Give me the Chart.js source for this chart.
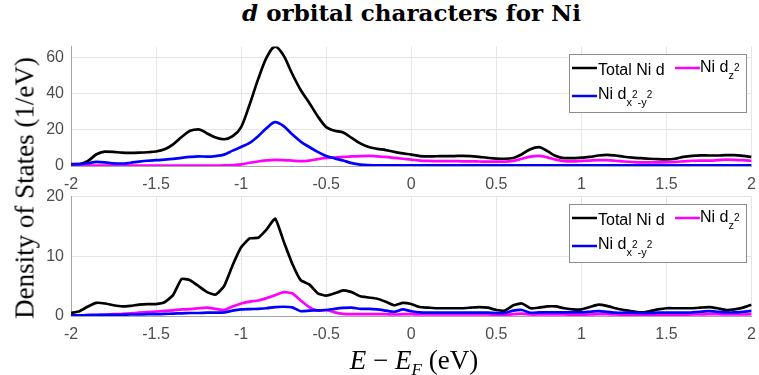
<!DOCTYPE html>
<html>
<head>
<meta charset="utf-8">
<script src="https://cdn.jsdelivr.net/npm/chart.js@4/dist/chart.umd.min.js"></script>
<style>
  html, body { margin: 0; padding: 0; background: #fff; }
  #wrap { position: relative; width: 759px; height: 375px; overflow: hidden; }
  canvas { position: absolute; left: 0; }
  #title {
    position: absolute; left: 71px; width: 681px; top: -1px;
    text-align: center; font: bold 23px "DejaVu Serif", serif; color: #000;
  }
  #ylab {
    position: absolute; left: 25px; top: 188px; white-space: nowrap;
    transform: translate(-50%, -50%) rotate(-90deg);
    font: 27px "Liberation Serif", serif; color: #000;
  }
  #xlab {
    position: absolute; left: 414px; top: 345px; white-space: nowrap;
    transform: translateX(-50%);
    font: 27px "Liberation Serif", serif; color: #000;
  }
  #xlab sub { font-size: 17px; vertical-align: -6px; }
</style>
</head>
<body>
<div id="wrap">
  <div id="title"><i>d</i> orbital characters for Ni</div>
  <canvas id="top-chart" width="765" height="167" style="top:30px"></canvas>
  <canvas id="bottom-chart" width="765" height="170" style="top:180px"></canvas>
  <div id="ylab">Density of States (1/eV)</div>
  <div id="xlab"><i>E</i> &minus; <i>E</i><sub><i>F</i></sub> (eV)</div>
</div>
<script>
// ============================================
// Data
// ============================================
const energy = [-2.00,-1.95,-1.90,-1.85,-1.80,-1.75,-1.70,-1.65,-1.60,-1.55,
  -1.50,-1.45,-1.40,-1.35,-1.30,-1.25,-1.20,-1.15,-1.10,-1.05,
  -1.00,-0.95,-0.90,-0.85,-0.80,-0.75,-0.70,-0.65,-0.60,-0.55,
  -0.50,-0.45,-0.40,-0.35,-0.30,-0.25,-0.20,-0.15,-0.10,-0.05,
  0.00,0.05,0.10,0.15,0.20,0.25,0.30,0.35,0.40,0.45,
  0.50,0.55,0.60,0.65,0.70,0.75,0.80,0.85,0.90,0.95,
  1.00,1.05,1.10,1.15,1.20,1.25,1.30,1.35,1.40,1.45,
  1.50,1.55,1.60,1.65,1.70,1.75,1.80,1.85,1.90,1.95,
  2.00];

// upper panel
const topTotal = [1.0,1.1,2.8,6.5,8.0,7.8,7.4,7.3,7.4,7.6,
  8.0,9.2,12.0,16.0,19.5,20.3,18.0,15.8,14.8,16.5,
  21.5,34.0,48.0,60.0,66.0,61.0,51.0,42.0,35.0,27.5,
  21.5,19.5,18.5,15.5,12.5,10.5,9.5,8.8,7.8,7.0,
  6.3,5.5,5.3,5.4,5.5,5.5,5.6,5.5,5.0,4.5,
  4.1,4.0,4.4,6.5,9.3,10.4,8.2,5.5,4.3,4.3,
  4.6,5.0,5.8,6.2,5.8,5.1,4.6,4.3,4.0,3.8,
  3.7,4.0,5.0,5.6,5.9,5.8,5.8,6.0,6.0,5.6,
  5.0];
const topDz2 = [0.2,0.2,0.2,0.2,0.2,0.2,0.2,0.2,0.2,0.2,
  0.2,0.2,0.2,0.2,0.2,0.2,0.2,0.2,0.3,0.5,
  0.9,1.8,2.5,3.1,3.4,3.3,3.0,2.7,3.0,3.8,
  4.5,4.7,5.0,5.3,5.5,5.6,5.3,5.0,4.5,4.0,
  3.5,3.0,2.8,2.7,2.7,2.7,2.6,2.6,2.5,2.4,
  2.4,2.4,2.8,4.0,5.2,5.6,4.8,3.5,2.7,2.6,
  2.8,3.0,3.2,3.2,2.9,2.5,2.2,2.0,2.0,2.0,
  2.1,2.3,2.6,2.9,3.0,3.0,3.2,3.5,3.4,3.2,
  2.9];
const topDx2y2 = [0.9,1.0,1.5,2.3,2.0,1.4,1.3,1.8,2.4,2.9,
  3.2,3.5,3.9,4.5,5.0,5.3,5.2,5.5,6.3,8.5,
  10.5,12.8,16.5,21.0,24.2,22.0,17.5,13.5,10.5,7.8,
  5.5,4.2,3.0,1.6,0.8,0.5,0.4,0.4,0.4,0.4,
  0.4,0.4,0.4,0.4,0.4,0.4,0.4,0.4,0.4,0.4,
  0.4,0.4,0.4,0.4,0.4,0.4,0.4,0.4,0.4,0.4,
  0.4,0.4,0.4,0.4,0.4,0.4,0.4,0.4,0.4,0.4,
  0.4,0.4,0.4,0.4,0.4,0.4,0.4,0.4,0.4,0.4,
  0.4];

// lower panel
const botTotal = [0.5,0.8,1.6,2.2,2.1,1.8,1.6,1.7,1.9,2.0,
  2.0,2.3,3.5,6.2,6.0,5.0,4.0,3.6,5.0,8.5,
  11.5,13.0,13.1,14.5,16.3,12.5,8.8,6.0,5.3,3.8,
  3.4,3.8,4.3,4.0,3.3,3.1,2.9,2.4,1.8,2.2,
  2.0,1.5,1.4,1.3,1.3,1.3,1.3,1.4,1.5,1.4,
  1.0,0.9,1.8,2.1,1.3,1.4,1.6,1.6,1.3,1.1,
  1.1,1.5,1.9,1.7,1.3,1.0,0.8,0.6,0.8,1.1,
  1.3,1.3,1.3,1.3,1.4,1.5,1.3,1.0,1.1,1.4,
  1.9];
const botDz2 = [0.1,0.1,0.15,0.2,0.2,0.3,0.35,0.45,0.55,0.65,
  0.75,0.85,0.95,1.1,1.15,1.3,1.4,1.2,1.0,1.6,
  2.1,2.4,2.6,3.0,3.5,4.0,3.8,2.6,1.5,0.9,
  1.0,0.6,0.35,0.3,0.3,0.3,0.3,0.3,0.25,0.3,
  0.3,0.25,0.25,0.25,0.25,0.25,0.25,0.25,0.25,0.25,
  0.2,0.2,0.3,0.4,0.25,0.25,0.25,0.25,0.25,0.2,
  0.2,0.25,0.3,0.3,0.25,0.2,0.2,0.2,0.2,0.2,
  0.2,0.2,0.2,0.25,0.25,0.3,0.3,0.25,0.25,0.25,
  0.3];
const botDx2y2 = [0.1,0.1,0.15,0.15,0.2,0.2,0.2,0.25,0.25,0.3,
  0.3,0.35,0.4,0.45,0.5,0.5,0.55,0.55,0.6,0.9,
  1.1,1.15,1.2,1.3,1.5,1.55,1.45,0.8,0.9,0.95,
  1.0,1.2,1.35,1.4,1.2,1.2,1.1,0.9,0.7,1.1,
  0.8,0.6,0.55,0.55,0.55,0.55,0.55,0.55,0.55,0.55,
  0.5,0.5,0.9,1.0,0.55,0.6,0.6,0.6,0.6,0.6,
  0.6,0.7,0.8,0.7,0.55,0.55,0.55,0.5,0.5,0.55,
  0.55,0.55,0.55,0.6,0.7,0.8,0.7,0.6,0.6,0.7,
  0.85];

// axes
const xTicks = [-2, -1.5, -1, -0.5, 0, 0.5, 1, 1.5, 2];
const topYTicks = [0, 20, 40, 60];
const botYTicks = [0, 10, 20];

// legend labels: [text, level]  0 = normal, -1 = subscript, 1 = superscript on subscript
const legendLabels = [
  [["Total Ni d", 0]],
  [["Ni d", 0], ["z", -1], ["2", 1]],
  [["Ni d", 0], ["x", -1], ["2", 1], ["-", -1], ["y", -1], ["2", 1]],
];

// ============================================
// Style
// ============================================
const COLORS = ["#000000", "#ff00ff", "#0000ff"];
const TICK_FONT = { family: "'Liberation Sans', Arial, sans-serif", size: 16 };
const TICK_COLOR = "#4d4d4d";
const GRID_COLOR = "#e6e6e6";
const AXIS_COLOR = "#a6a6a6";

// legend drawn inside the plot, top right (MATLAB style, 2 columns)
const legendSlots = [
  { lx: 3, ly: 14, tx: 29, base: 21 },
  { lx: 106, ly: 14, tx: 131, base: 17.5 },
  { lx: 3, ly: 42, tx: 29, base: 45 },
];

const orbitalLegend = {
  id: "orbitalLegend",
  afterDatasetsDraw(chart) {
    const ctx = chart.ctx;
    const area = chart.chartArea;
    const bw = 177, bh = 58;
    const bx = Math.round(area.right) - 6 - bw;
    const by = Math.round(area.top) + 7;
    ctx.save();
    ctx.fillStyle = "#ffffff";
    ctx.fillRect(bx, by, bw, bh);
    ctx.strokeStyle = "#8c8c8c";
    ctx.lineWidth = 1;
    ctx.strokeRect(bx + 0.5, by + 0.5, bw, bh);

    legendSlots.forEach((slot, i) => {
      ctx.strokeStyle = COLORS[i];
      ctx.lineWidth = 2.5;
      ctx.beginPath();
      ctx.moveTo(bx + slot.lx, by + slot.ly);
      ctx.lineTo(bx + slot.lx + 25, by + slot.ly);
      ctx.stroke();

      let x = bx + slot.tx;
      ctx.fillStyle = "#000";
      ctx.textBaseline = "alphabetic";
      legendLabels[i].forEach(([txt, level]) => {
        let size = 16, dy = 0;
        if (level === -1) { size = 11; dy = 7; }
        if (level === 1) { size = 10; dy = -1; }
        ctx.font = size + "px 'Liberation Sans', Arial, sans-serif";
        ctx.fillText(txt, x, by + slot.base + dy);
        x += ctx.measureText(txt).width;
      });
    });
    ctx.restore();
  },
};

// ============================================
// Panel builder
// ============================================
function buildPanel(canvasId, series, yMax, yTicks, padTop, xAxisHeight, smooth) {
  const canvas = document.getElementById(canvasId);
  // draw order like MATLAB: total first, d_x2-y2 last (on top)
  const datasets = series.map((vals, i) => ({
    data: energy.map((e, k) => ({ x: e, y: vals[k] })),
    borderColor: COLORS[i],
    borderWidth: 2.7,
    pointRadius: 0,
    fill: false,
    order: 3 - i,
    tension: smooth ? 0.4 : 0.15,
    cubicInterpolationMode: smooth ? "monotone" : "default",
  }));

  new Chart(canvas, {
    type: "line",
    data: { datasets: datasets },
    options: {
      responsive: false,
      animation: false,
      devicePixelRatio: 1,
      layout: { padding: { top: padTop, right: 0, left: 0, bottom: 0 } },
      plugins: { legend: { display: false }, tooltip: { enabled: false } },
      scales: {
        x: {
          type: "linear",
          min: -2,
          max: 2,
          afterBuildTicks: axis => { axis.ticks = xTicks.map(v => ({ value: v })); },
          afterFit: axis => { axis.height = xAxisHeight; },
          grid: { color: GRID_COLOR, drawTicks: false },
          border: { color: AXIS_COLOR },
          ticks: {
            font: TICK_FONT,
            color: TICK_COLOR,
            padding: 9,
            maxRotation: 0,
            callback: v => String(v),
          },
        },
        y: {
          min: 0,
          max: yMax,
          afterBuildTicks: axis => { axis.ticks = yTicks.map(v => ({ value: v })); },
          afterFit: axis => { axis.width = 71; },
          grid: { color: GRID_COLOR, drawTicks: false },
          border: { color: AXIS_COLOR },
          ticks: {
            font: TICK_FONT,
            color: TICK_COLOR,
            padding: 7,
            callback: v => String(v),
          },
        },
      },
    },
    plugins: [orbitalLegend],
  });
}

buildPanel("top-chart", [topTotal, topDz2, topDx2y2], 66, topYTicks, 14, 31, true);
buildPanel("bottom-chart", [botTotal, botDz2, botDx2y2], 20, botYTicks, 16, 34, false);
</script>
</body>
</html>
